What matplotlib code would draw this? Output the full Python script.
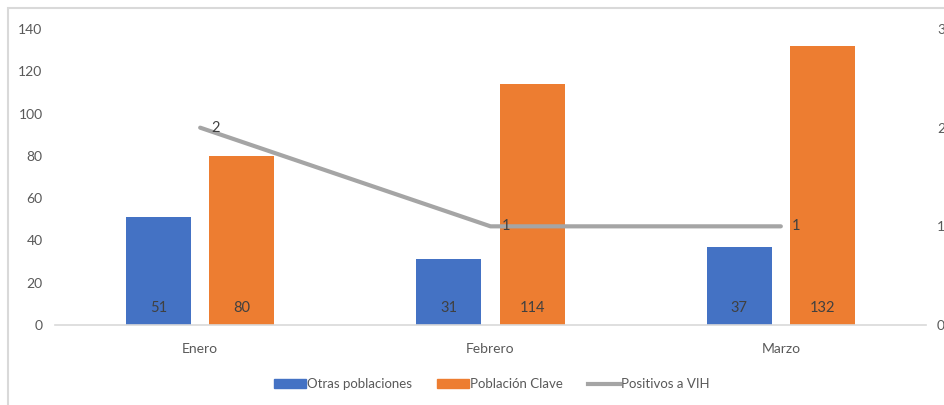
import numpy as np
import matplotlib.pyplot as plt
from matplotlib.patches import Rectangle, Patch
from matplotlib.lines import Line2D

plt.rcParams['font.family'] = ['Lato', 'DejaVu Sans']

meses = ["Enero", "Febrero", "Marzo"]
otras = [51, 31, 37]
clave = [80, 114, 132]
positivos = [2, 1, 1]

azul = "#4472C4"
naranja = "#ED7D31"
gris = "#A5A5A5"
texto = "#595959"

fig = plt.figure(figsize=(9.44, 4.05), dpi=100)
fig.patches.append(Rectangle((8 / 944, -0.1), 1.2, 1 - 8 / 405 + 0.1, transform=fig.transFigure,
                             fill=False, edgecolor="#D9D9D9", linewidth=1.5))
ax = fig.add_axes([55 / 944, 1 - 325 / 405, 871 / 944, 296 / 405])
x = np.arange(len(meses))
w = 0.224
off = 0.143
b1 = ax.bar(x - off, otras, w, color=azul)
b2 = ax.bar(x + off, clave, w, color=naranja)
for bars in (b1, b2):
    for r in bars:
        ax.text(r.get_x() + r.get_width() / 2, 8, str(int(r.get_height())),
                ha="center", va="center", fontsize=10.5, color="#404040")

ax.set_xlim(-0.5, 2.5)
ax.set_ylim(0, 140)
ax.set_yticks(range(0, 141, 20))
ax.set_xticks(x)
ax.set_xticklabels(meses)
for s in ["top", "right", "left"]:
    ax.spines[s].set_visible(False)
ax.spines["bottom"].set_color("#D9D9D9")
ax.spines["bottom"].set_linewidth(1.2)
ax.tick_params(axis="y", length=0, pad=9, labelsize=10, labelcolor=texto)
ax.tick_params(axis="x", length=0, pad=13, labelsize=10, labelcolor=texto)

ax2 = ax.twinx()
ax2.plot(x, positivos, color=gris, linewidth=3, solid_capstyle="round")
for xi, v in zip(x, positivos):
    ax2.annotate(str(v), (xi, v), xytext=(8, 0), textcoords="offset points",
                 ha="left", va="center", fontsize=10.5, color="#404040")
ax2.set_ylim(0, 3)
ax2.set_yticks([0, 1, 2, 3])
for s in ax2.spines.values():
    s.set_visible(False)
ax2.tick_params(axis="y", length=0, pad=8, labelsize=10, labelcolor=texto)

handles = [Patch(color=azul), Patch(color=naranja), Line2D([], [], color=gris, lw=3)]
fig.legend(handles, ["Otras poblaciones", "Población Clave", "Positivos a VIH"],
           loc="center", bbox_to_anchor=(492 / 944, 1 - 384 / 405), ncol=3, frameon=False,
           fontsize=9.5, labelcolor=texto, handlelength=2.4, handleheight=0.6,
           handletextpad=0.1, columnspacing=1.9)

fig.savefig("out.png", dpi=100)
